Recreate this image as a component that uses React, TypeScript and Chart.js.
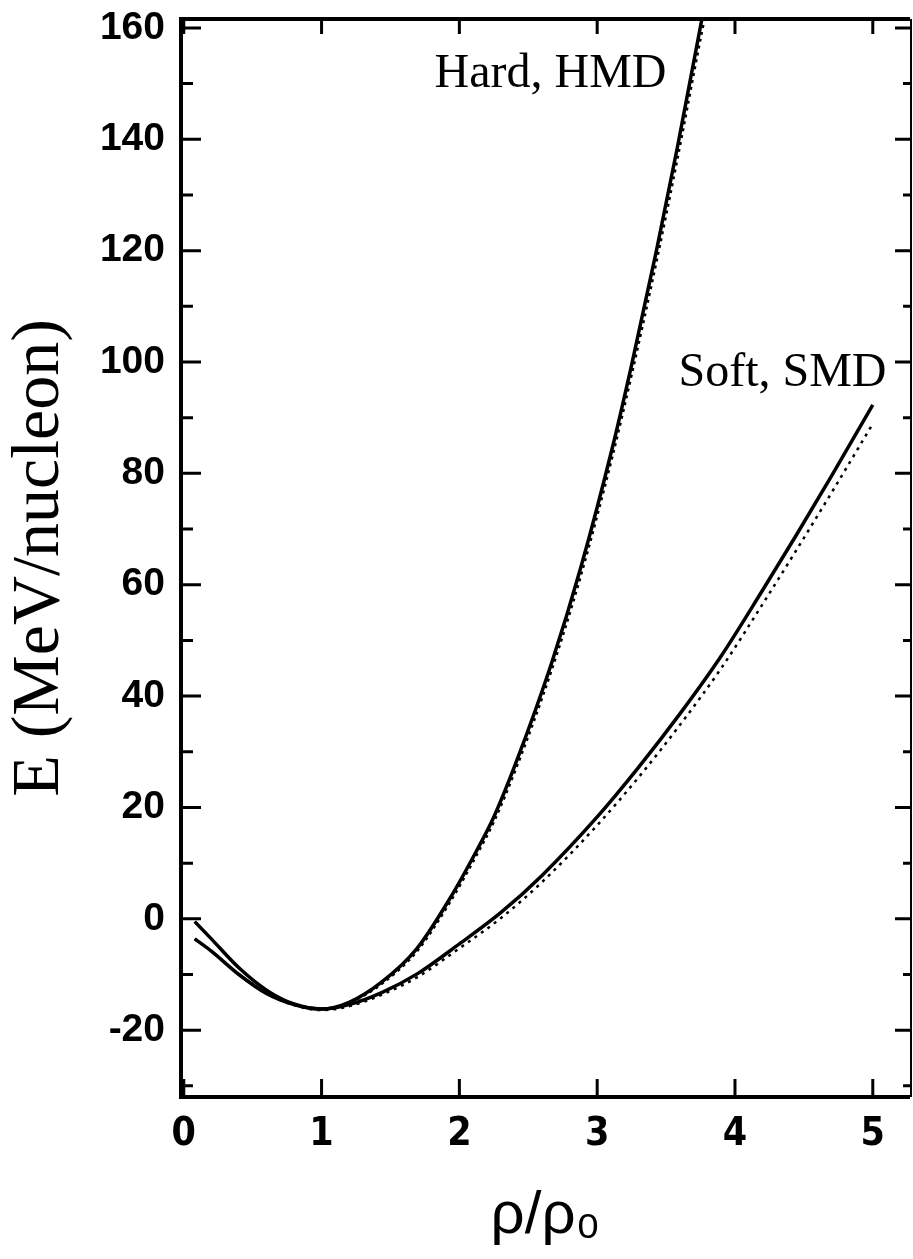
import React, { useEffect, useRef } from "react";
import { Chart, registerables } from "chart.js";

Chart.register(...registerables);

// ---- axis ticks ----
const xTicks = [0, 1, 2, 3, 4, 5];
const yTicks = [-20, 0, 20, 40, 60, 80, 100, 120, 140, 160];
const yMinorTicks = [-30, -10, 10, 30, 50, 70, 90, 110, 130, 150];

// ---- Hard EOS (HMD solid, parametrised dotted) ----
const hardX = [0.08, 0.2, 0.4, 0.6, 0.8, 1.0, 1.2, 1.44, 1.69, 1.93, 2.12, 2.25, 2.41, 2.67, 2.88, 3.11, 3.25, 3.43, 3.58, 3.76, 3.82];
const hardHMD = [-0.5, -3.6, -8.8, -12.8, -15.3, -16.2, -15.0, -11.3, -5.4, 3.6, 12.0, 18.3, 28.0, 46.0, 63.0, 84.6, 99.5, 120.0, 138.3, 161.6, 169];
const hardDotted = [-0.5, -3.6, -8.8, -12.8, -15.3, -16.2, -15.1, -11.6, -5.9, 2.9, 11.2, 17.4, 26.9, 44.7, 61.5, 83.0, 97.7, 118.0, 136.2, 159.3, 166.5];

// ---- Soft EOS (SMD solid, parametrised dotted) ----
const softX = [0.08, 0.2, 0.4, 0.6, 0.8, 1.0, 1.2, 1.44, 1.7, 2.0, 2.3, 2.6, 3.0, 3.3, 3.6, 3.9, 4.2, 4.44, 4.7, 5.0];
const softSMD = [-3.6, -5.8, -10, -13.4, -15.4, -16.2, -15.4, -13.2, -9.8, -4.5, 1.1, 7.8, 18.3, 27.2, 36.8, 47.2, 59.0, 68.7, 79.5, 92.3];
const softDotted = [-3.6, -5.8, -10, -13.4, -15.5, -16.4, -15.7, -13.6, -10.4, -5.3, 0.1, 6.6, 16.8, 25.4, 34.8, 45.0, 56.5, 66.0, 76.5, 88.9];

// ---- curve labels (data coordinates of text start / baseline) ----
const curveLabels = [
  { text: "Hard, HMD", x: 1.82, y: 149.4 },
  { text: "Soft, SMD", x: 3.59, y: 95.7 },
];

const X_MIN = -0.02;
const X_MAX = 5.27;
const Y_MIN = -32;
const Y_MAX = 161.6;

const pts = (xs: number[], ys: number[]) => xs.map((x, i) => ({ x, y: ys[i] }));

const framePlugin = {
  id: "frameTicks",
  afterDraw(chart: any) {
    const { ctx, chartArea } = chart;
    const { left, right, top, bottom } = chartArea;
    const xs = chart.scales.x;
    const ys = chart.scales.y;
    ctx.save();
    ctx.strokeStyle = "#000";
    ctx.lineCap = "butt";
    // frame
    ctx.lineWidth = 4;
    ctx.beginPath();
    ctx.moveTo(left, top - 2);
    ctx.lineTo(left, bottom + 2);
    ctx.moveTo(left - 2, bottom);
    ctx.lineTo(right, bottom);
    ctx.moveTo(left - 2, top);
    ctx.lineTo(right, top);
    ctx.stroke();
    ctx.lineWidth = 2;
    ctx.beginPath();
    ctx.moveTo(right + 1, top);
    ctx.lineTo(right + 1, bottom);
    ctx.stroke();
    // ticks
    ctx.lineWidth = 3;
    ctx.beginPath();
    yTicks.forEach((v) => {
      const p = ys.getPixelForValue(v);
      ctx.moveTo(left, p);
      ctx.lineTo(left + 20, p);
      ctx.moveTo(right, p);
      ctx.lineTo(right - 15, p);
    });
    yMinorTicks.forEach((v) => {
      const p = ys.getPixelForValue(v);
      ctx.moveTo(left, p);
      ctx.lineTo(left + 12, p);
      ctx.moveTo(right, p);
      ctx.lineTo(right - 7, p);
    });
    xTicks.forEach((v) => {
      const p = xs.getPixelForValue(v);
      ctx.moveTo(p, bottom);
      ctx.lineTo(p, bottom - 18);
      ctx.moveTo(p, top);
      ctx.lineTo(p, top + 15);
    });
    ctx.stroke();
    // curve labels
    ctx.fillStyle = "#000";
    ctx.font = '48px "Liberation Serif", "Times New Roman", serif';
    ctx.textAlign = "left";
    ctx.textBaseline = "alphabetic";
    curveLabels.forEach((l) => {
      ctx.fillText(l.text, xs.getPixelForValue(l.x), ys.getPixelForValue(l.y));
    });
    ctx.restore();
  },
};

export default function App() {
  const ref = useRef<HTMLCanvasElement | null>(null);
  useEffect(() => {
    if (!ref.current) return;
    const chart = new Chart(ref.current, {
      type: "line",
      data: {
        datasets: [
          {
            label: "Hard, HMD",
            data: pts(hardX, hardHMD),
            borderColor: "#000",
            borderWidth: 3.5,
            pointRadius: 0,
            cubicInterpolationMode: "monotone",
            fill: false,
          },
          {
            label: "Hard (dotted)",
            data: pts(hardX, hardDotted),
            borderColor: "#000",
            borderWidth: 2.5,
            borderDash: [3, 4],
            pointRadius: 0,
            cubicInterpolationMode: "monotone",
            fill: false,
          },
          {
            label: "Soft, SMD",
            data: pts(softX, softSMD),
            borderColor: "#000",
            borderWidth: 3.5,
            pointRadius: 0,
            cubicInterpolationMode: "monotone",
            fill: false,
          },
          {
            label: "Soft (dotted)",
            data: pts(softX, softDotted),
            borderColor: "#000",
            borderWidth: 2.5,
            borderDash: [3, 5],
            pointRadius: 0,
            cubicInterpolationMode: "monotone",
            fill: false,
          },
        ],
      },
      options: {
        animation: false,
        responsive: false,
        devicePixelRatio: 1,
        layout: { padding: { left: 0, top: 19, right: 3, bottom: 0 } },
        plugins: {
          legend: { display: false },
          tooltip: { enabled: false },
          title: { display: false },
        },
        scales: {
          x: {
            type: "linear",
            min: X_MIN,
            max: X_MAX,
            grid: { display: false, drawTicks: false },
            border: { display: false },
            afterFit: (s: any) => {
              s.height = 162;
              s.paddingLeft = 0;
              s.paddingRight = 0;
            },
            afterBuildTicks: (s: any) => {
              s.ticks = xTicks.map((v) => ({ value: v }));
            },
            ticks: {
              color: "#000",
              padding: 14,
              maxRotation: 0,
              autoSkip: false,
              font: {
                family: '"Liberation Sans Narrow", "DejaVu Sans Condensed", "Liberation Sans", sans-serif',
                weight: "bold",
                size: 39,
              },
            },
            title: {
              display: true,
              text: "ρ/ρ₀",
              color: "#000",
              font: { family: '"Liberation Sans", Arial, sans-serif', size: 60, lineHeight: 1 },
              padding: { top: 0, bottom: 13 },
            },
          },
          y: {
            type: "linear",
            min: Y_MIN,
            max: Y_MAX,
            grid: { display: false, drawTicks: false },
            border: { display: false },
            afterFit: (s: any) => {
              s.width = 181;
              s.paddingTop = 0;
              s.paddingBottom = 0;
            },
            afterBuildTicks: (s: any) => {
              s.ticks = yTicks.map((v) => ({ value: v }));
            },
            ticks: {
              color: "#000",
              padding: 16,
              autoSkip: false,
              font: { family: '"Liberation Sans", Arial, sans-serif', weight: "bold", size: 39 },
            },
            title: {
              display: true,
              text: "E (MeV/nucleon)",
              color: "#000",
              font: { family: '"Liberation Serif", "Times New Roman", serif', size: 68, lineHeight: 1 },
              padding: { top: 6, bottom: 0 },
            },
          },
        },
      },
      plugins: [framePlugin],
    });
    return () => chart.destroy();
  }, []);

  return (
    <div style={{ position: "absolute", left: 0, top: 0, width: 913, height: 1259, background: "#fff" }}>
      <canvas ref={ref} width={913} height={1259} style={{ display: "block" }} />
    </div>
  );
}
